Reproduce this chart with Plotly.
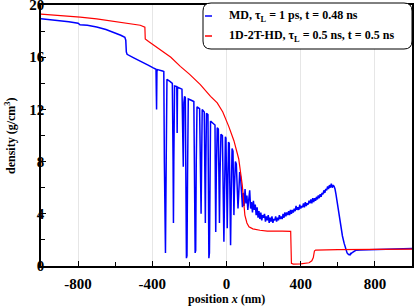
import plotly.graph_objects as go

# ---------------- data ----------------
# MD, tau_L = 1 ps, t = 0.48 ns  (x in nm, density in g/cm^3)
md_head = [
    (-1000, 18.95), (-950, 18.88), (-900, 18.8), (-850, 18.72), (-800, 18.6), (-790, 18.48),
    (-750, 18.45), (-700, 18.32), (-650, 18.12), (-600, 17.88), (-570, 17.68), (-548, 17.52),
    (-543, 17.3), (-540, 16.4), (-536, 16.22), (-500, 15.95), (-450, 15.62), (-420, 15.38),
    (-395, 15.18), (-380, 15.08), (-378, 13.0), (-377, 12.0), (-375, 14.9), (-372, 15.05),
    (-345, 14.95), (-338, 14.9), (-335, 8.0), (-332, 1.0), (-329, 1.0), (-325, 8.0),
    (-321, 14.3), (-305, 14.15), (-292, 14.0), (-288, 8.0), (-286, 3.3), (-284, 8.0),
    (-280, 13.8), (-268, 13.75), (-266, 10.2), (-264, 13.7), (-240, 13.55), (-236, 11.0),
    (-233, 7.6), (-230, 12.5), (-226, 13.0), (-222, 12.9), (-219, 6.0), (-216, 0.6),
    (-213, 0.8), (-210, 7.0), (-206, 12.8), (-190, 12.7), (-176, 12.6), (-172, 6.0),
    (-169, 1.0), (-166, 1.2), (-163, 8.0), (-159, 12.2), (-145, 12.05), (-140, 8.0),
    (-137, 4.0), (-134, 8.0), (-131, 12.0), (-120, 11.8), (-116, 7.0), (-114, 3.3),
    (-112, 7.0), (-108, 11.7), (-100, 11.6), (-97, 5.0), (-95, 0.6), (-92, 1.0),
    (-89, 6.0), (-86, 11.1), (-70, 10.9), (-62, 10.8), (-60, 6.0), (-58, 2.6),
    (-55, 7.0), (-50, 10.6), (-44, 10.5), (-41, 6.0), (-38, 3.3), (-35, 7.0),
    (-30, 10.1), (-22, 10.0), (-17, 5.0), (-14, 1.85), (-11, 5.0), (-6, 9.9),
    (-3, 9.8), (1, 6.0), (4, 2.9), (7, 6.0), (11, 9.5), (15, 9.4),
    (19, 5.0), (22, 1.6), (25, 5.0), (30, 9.0), (35, 8.8), (38, 6.0),
    (40, 3.9), (43, 6.0), (48, 8.0), (53, 7.8), (57, 6.0), (62, 4.4),
    (66, 5.5), (71, 7.2), (76, 6.8), (81, 5.0), (86, 4.5),
]
md_noisy_x = list(range(90, 595, 5))
md_noisy_y = [
    5.6, 4.6, 5.9, 4.8, 5.4, 4.3, 5.1, 5.8, 4.4, 4.9, 4.1, 5.0, 4.3, 4.7, 3.9, 4.5,
    3.7, 4.2, 3.6, 4.1, 3.5, 3.9, 3.7, 4.0, 3.4, 3.8, 3.5, 3.9, 3.3, 3.7, 3.4, 3.8,
    3.3, 3.6, 3.5, 3.8, 3.4, 3.7, 3.5, 3.9, 3.6, 3.8, 3.6, 4.0, 3.7, 4.1, 3.8, 4.1,
    3.9, 4.2, 3.9, 4.3, 4.0, 4.3, 4.1, 4.4, 4.2, 4.6, 4.3, 4.5, 4.3, 4.7, 4.4, 4.6,
    4.5, 4.8, 4.5, 4.9, 4.6, 4.8, 4.7, 5.0, 4.8, 5.1, 4.8, 5.2, 4.9, 5.2, 5.0, 5.3,
    5.1, 5.4, 5.2, 5.5, 5.3, 5.6, 5.5, 5.8, 5.6, 5.9, 5.8, 6.1, 5.9, 6.2, 6.0, 6.3,
    6.0, 6.2, 6.1, 5.9, 5.5,
]
md_tail = [
    (595, 5.0), (600, 4.5), (607, 3.8), (615, 3.1), (625, 2.3), (634, 1.75), (642, 1.3),
    (650, 1.0), (658, 0.88), (666, 0.85), (669, 1.0), (672, 0.95), (680, 1.05), (690, 1.15),
    (697, 1.2), (720, 1.23), (760, 1.25), (800, 1.26), (850, 1.26), (900, 1.28),
    (950, 1.3), (1000, 1.34),
]
md_x = [p[0] for p in md_head] + md_noisy_x + [p[0] for p in md_tail]
md_y = [p[1] for p in md_head] + md_noisy_y + [p[1] for p in md_tail]

# 1D-2T-HD, tau_L = 0.5 ns, t = 0.5 ns
hd_x = [-1000, -900, -789, -700, -600, -500, -465, -440, -438, -420, -400, -357, -300,
        -249, -200, -141, -86, -50, -20, 12, 40, 66, 85, 99, 110, 121, 142, 180, 220,
        300, 346, 350, 360, 400, 445, 460, 468, 474, 480, 600, 800, 1000]
hd_y = [19.3, 19.2, 19.07, 18.93, 18.75, 18.55, 18.45, 18.3, 17.4, 17.2, 17.0, 16.6, 16.0,
        15.3, 14.7, 13.9, 13.0, 12.5, 11.8, 10.7, 9.6, 8.2, 6.2, 3.9, 3.3, 3.0, 2.85, 2.74, 2.68,
        2.67, 2.66, 0.2, 0.15, 0.17, 0.25, 0.4, 0.65, 1.15, 1.22, 1.25, 1.27, 1.3]

series_names = ["MD, τ<sub>L</sub> = 1 ps, t = 0.48 ns",
                "1D-2T-HD, τ<sub>L</sub> = 0.5 ns, t = 0.5 ns"]
series_colors = ["#0000ff", "#ff0000"]

x_ticks = [-800, -400, 0, 400, 800]
y_ticks = [0, 4, 8, 12, 16, 20]
x_title = "<b>position <i>x</i> (nm)</b>"
y_title = "<b>density (g/cm<sup>3</sup>)</b>"

# ---------------- figure ----------------
FONT = "Liberation Serif, Times New Roman, serif"
fig = go.Figure()
fig.add_trace(go.Scatter(x=md_x, y=md_y, mode="lines", name=series_names[0],
                         line=dict(color=series_colors[0], width=1.5), showlegend=False))
fig.add_trace(go.Scatter(x=hd_x, y=hd_y, mode="lines", name=series_names[1],
                         line=dict(color=series_colors[1], width=1.2), showlegend=False))

W, H = 415, 307
L, R, T, B = 41, 3, 5, 41
pw, ph = W - L - R, H - T - B

def px(xp):
    return (xp - L) / pw

def py(yp):
    return (H - B - yp) / ph

fig.update_layout(
    width=W, height=H,
    margin=dict(l=L, r=R, t=T, b=B, autoexpand=False),
    paper_bgcolor="white", plot_bgcolor="white",
    font=dict(family=FONT, color="black"),
    showlegend=False,
)
fig.update_xaxes(
    range=[-1000, 1000], tickvals=x_ticks, ticktext=[str(v) for v in x_ticks],
    ticks="inside", ticklen=5, tickwidth=1, tickcolor="black",
    minor=dict(tickvals=[-600, -200, 200, 600], ticks="inside", ticklen=4, tickcolor="black",
               showgrid=False),
    showgrid=True, gridcolor="#e6e6e6", gridwidth=1,
    showline=True, linecolor="black", linewidth=1.5, mirror=True, automargin=False,
    zeroline=False, ticklabeloverflow="allow", ticklabelstandoff=3,
    tickfont=dict(family=FONT, size=15, weight="bold"),
)
fig.update_yaxes(
    range=[0, 20], tickvals=y_ticks, ticktext=[str(v) for v in y_ticks],
    ticks="inside", ticklen=5, tickwidth=1, tickcolor="black",
    minor=dict(tickvals=[2, 6, 10, 14, 18], ticks="inside", ticklen=4, tickcolor="black",
               showgrid=False),
    showgrid=False,
    showline=True, linecolor="black", linewidth=1.5, mirror=True, automargin=False,
    zeroline=False, ticklabeloverflow="allow", ticklabelstandoff=-8,
    tickfont=dict(family=FONT, size=15, weight="bold"),
)

# axis titles
fig.add_annotation(x=px(226.5), y=py(299), xref="paper", yref="paper", showarrow=False,
                   xanchor="center", yanchor="middle", text=x_title,
                   font=dict(family=FONT, size=12, color="black"))
fig.add_annotation(x=px(10), y=py(136), xref="paper", yref="paper", showarrow=False,
                   xanchor="center", yanchor="middle", textangle=-90, text=y_title,
                   font=dict(family=FONT, size=12, color="black"))

# custom legend with rounded box
x0, x1, y0, y1 = px(203), px(412), py(49), py(3)
rx, ry = 8 / pw, 8 / ph
path = (f"M{x0+rx},{y1} L{x1-rx},{y1} Q{x1},{y1} {x1},{y1-ry} "
        f"L{x1},{y0+ry} Q{x1},{y0} {x1-rx},{y0} L{x0+rx},{y0} "
        f"Q{x0},{y0} {x0},{y0+ry} L{x0},{y1-ry} Q{x0},{y1} {x0+rx},{y1} Z")
fig.add_shape(type="path", path=path, xref="paper", yref="paper",
              line=dict(color="black", width=1), fillcolor="white", layer="above")
for i, (name, col) in enumerate(zip(series_names, series_colors)):
    yy = py(16 + 20 * i)
    fig.add_shape(type="line", xref="paper", yref="paper", x0=px(205), x1=px(212), y0=yy, y1=yy,
                  line=dict(color=col, width=1.5), layer="above")
    fig.add_annotation(x=px(227), y=yy, xref="paper", yref="paper", xanchor="left",
                       yanchor="middle", showarrow=False,
                       text=f"<b>{name}</b>", font=dict(family=FONT, size=12, color="black"))

fig.write_html("out.html", config={"displayModeBar": False},
               post_script="document.body.style.margin='0';")
